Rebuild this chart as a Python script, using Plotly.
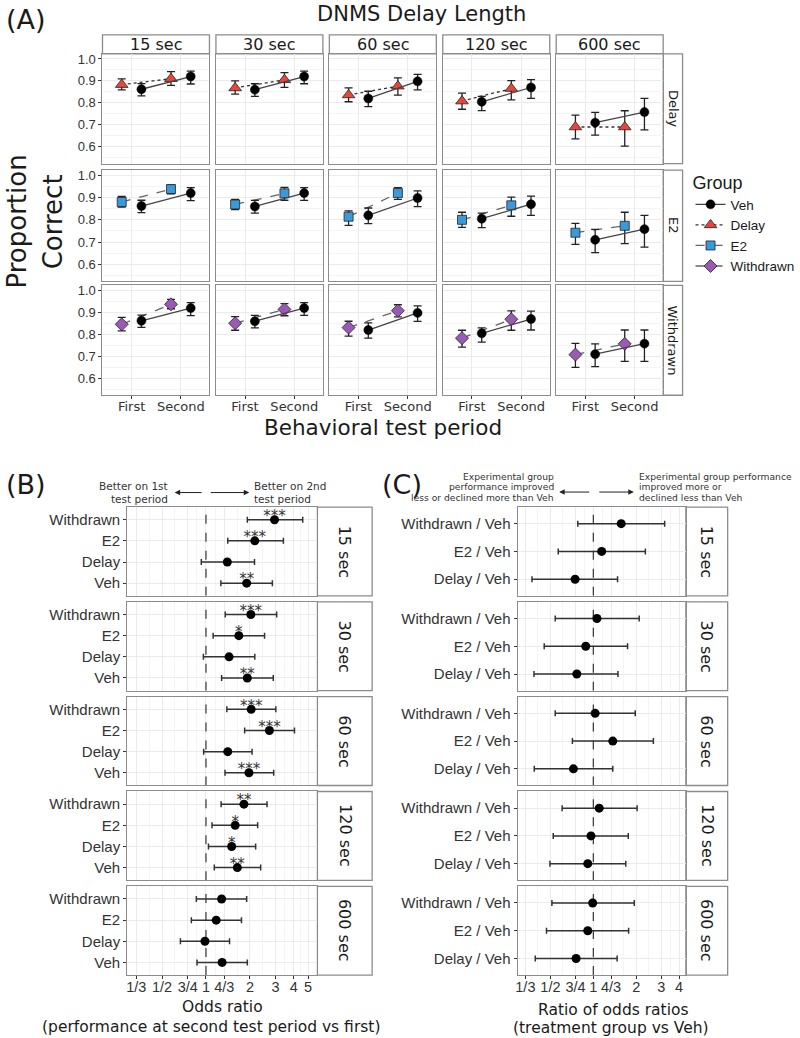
import numpy as np
import plotly.graph_objects as go

# ---------------- data ----------------
delays = ["15 sec", "30 sec", "60 sec", "120 sec", "600 sec"]
periods = ["First", "Second"]
treatments = ["Delay", "E2", "Withdrawn"]

# Panel A: proportion correct, [delay][period]
veh_mean = [[0.862, 0.920], [0.860, 0.920], [0.820, 0.898], [0.805, 0.870], [0.710, 0.758]]
veh_lo = [[0.832, 0.886], [0.830, 0.887], [0.783, 0.859], [0.765, 0.820], [0.653, 0.677]]
veh_hi = [[0.888, 0.945], [0.887, 0.945], [0.853, 0.930], [0.830, 0.906], [0.757, 0.820]]

delay_mean = [[0.883, 0.910], [0.868, 0.905], [0.836, 0.876], [0.808, 0.865], [0.690, 0.690]]
delay_lo = [[0.859, 0.880], [0.840, 0.871], [0.805, 0.835], [0.771, 0.814], [0.636, 0.603]]
delay_hi = [[0.909, 0.942], [0.900, 0.938], [0.868, 0.914], [0.844, 0.901], [0.744, 0.764]]

e2_mean = [[0.880, 0.938], [0.869, 0.919], [0.814, 0.920], [0.800, 0.865], [0.742, 0.773]]
e2_lo = [[0.857, 0.917], [0.846, 0.888], [0.775, 0.892], [0.766, 0.816], [0.690, 0.693]]
e2_hi = [[0.905, 0.957], [0.892, 0.946], [0.840, 0.945], [0.834, 0.902], [0.784, 0.834]]

wd_mean = [[0.846, 0.937], [0.851, 0.914], [0.831, 0.908], [0.783, 0.869], [0.708, 0.757]]
wd_lo = [[0.816, 0.917], [0.819, 0.885], [0.792, 0.880], [0.742, 0.819], [0.650, 0.677]]
wd_hi = [[0.878, 0.960], [0.881, 0.940], [0.860, 0.935], [0.819, 0.907], [0.759, 0.820]]

a_yticks = [0.6, 0.7, 0.8, 0.9, 1.0]

# Panel B: odds ratio second vs first, [delay][group]
or_groups = ["Withdrawn", "E2", "Delay", "Veh"]
or_mean = [[2.95, 2.16, 1.40, 1.90],
           [2.03, 1.68, 1.44, 1.92],
           [2.04, 2.72, 1.41, 1.97],
           [1.82, 1.585, 1.50, 1.64],
           [1.28, 1.175, 0.984, 1.29]]
or_lo = [[1.92, 1.41, 0.929, 1.265],
         [1.355, 1.12, 0.96, 1.28],
         [1.39, 1.84, 0.964, 1.35],
         [1.27, 1.10, 1.04, 1.14],
         [0.859, 0.794, 0.668, 0.868]]
or_hi = [[4.6, 3.39, 2.15, 2.85],
         [3.05, 2.52, 2.16, 2.89],
         [3.01, 4.04, 2.07, 2.91],
         [2.62, 2.26, 2.19, 2.37],
         [1.90, 1.75, 1.45, 1.92]]
or_sig = [["***", "***", "", "**"],
          ["***", "*", "", "**"],
          ["***", "***", "", "***"],
          ["**", "*", "*", "**"],
          ["", "", "", ""]]
or_ticks = [1/3, 1/2, 3/4, 1, 4/3, 2, 3, 4, 5]
or_ticklabels = ["1/3", "1/2", "3/4", "1", "4/3", "2", "3", "4", "5"]

# Panel C: ratio of odds ratios, [delay][comparison]
ror_groups = ["Withdrawn / Veh", "E2 / Veh", "Delay / Veh"]
ror_mean = [[1.57, 1.145, 0.745],
            [1.06, 0.885, 0.766],
            [1.03, 1.37, 0.725],
            [1.10, 0.963, 0.914],
            [0.99, 0.914, 0.757]]
ror_lo = [[0.778, 0.567, 0.371],
          [0.54, 0.452, 0.383],
          [0.54, 0.713, 0.385],
          [0.604, 0.523, 0.496],
          [0.512, 0.469, 0.391]]
ror_hi = [[3.17, 2.32, 1.48],
          [2.10, 1.74, 1.49],
          [1.97, 2.64, 1.37],
          [2.03, 1.76, 1.69],
          [1.94, 1.77, 1.47]]
ror_ticks = [1/3, 1/2, 3/4, 1, 4/3, 2, 3, 4]
ror_ticklabels = ["1/3", "1/2", "3/4", "1", "4/3", "2", "3", "4"]

# ---------------- styling / layout helpers ----------------
W, H = 800, 1038
FD = "DejaVu Sans"
FA = "Liberation Sans, Arial, sans-serif"
GRID = "#ebebeb"
MINOR = "#f4f4f4"
BORDER = "#8c8c8c"
TXT = "#333333"


def px_x(p):
    return p / W


def px_y(p):
    return 1 - p / H


fig = go.Figure()
axes = {}
shapes = []
annots = []
counter = [0]


def add_axes(x0, x1, y0, y1, xa, ya):
    counter[0] += 1
    n = counter[0]
    s = "" if n == 1 else str(n)
    xa = dict(xa)
    ya = dict(ya)
    xa.update(domain=[px_x(x0), px_x(x1)], anchor="y" + s)
    ya.update(domain=[px_y(y1), px_y(y0)], anchor="x" + s)
    axes["xaxis" + s] = xa
    axes["yaxis" + s] = ya
    return "x" + s, "y" + s


def strip(x0, x1, y0, y1, text, angle=0, size=16):
    shapes.append(dict(type="rect", xref="paper", yref="paper",
                       x0=px_x(x0), x1=px_x(x1), y0=px_y(y1), y1=px_y(y0),
                       fillcolor="white", line=dict(color=BORDER, width=1.3), layer="below"))
    annots.append(dict(xref="paper", yref="paper", x=px_x((x0 + x1) / 2), y=px_y((y0 + y1) / 2),
                       text=text, showarrow=False, textangle=angle,
                       font=dict(family=FD, size=size, color="#1a1a1a"),
                       xanchor="center", yanchor="middle"))


def label(x, y, text, size, family=FD, color="#1a1a1a", angle=0, xanchor="center", align="center"):
    annots.append(dict(xref="paper", yref="paper", x=px_x(x), y=px_y(y), text=text,
                       showarrow=False, textangle=angle, font=dict(family=family, size=size, color=color),
                       xanchor=xanchor, yanchor="middle", align=align))


def arrow(x_head, x_tail, y):
    annots.append(dict(xref="paper", yref="paper", x=px_x(x_head), y=px_y(y), text="",
                       showarrow=True, ax=x_tail - x_head, ay=0, arrowhead=2, arrowsize=1.1,
                       arrowwidth=1, arrowcolor="#222"))


# ---------------- Panel A ----------------
col_x = [(101, 208.5), (215, 322.5), (329, 436.5), (443, 550.5), (557, 664.5)]
row_y = [(52, 162), (168.5, 280), (284, 394)]
a_data = {"Delay": (delay_mean, delay_lo, delay_hi),
          "E2": (e2_mean, e2_lo, e2_hi),
          "Withdrawn": (wd_mean, wd_lo, wd_hi)}
a_style = {"Delay": dict(color="#E8463A", symbol="triangle-up", size=11, dash="dot", lc="#333"),
           "E2": dict(color="#3A9AD9", symbol="square", size=9, dash="dash", lc="#666"),
           "Withdrawn": dict(color="#9B59B6", symbol="diamond", size=10, dash="dash", lc="#666")}
dodge = 0.2
xpos = np.arange(1, len(periods) + 1)
rank = {"Veh": 1, "Delay": 2, "E2": 3, "Withdrawn": 4}

for r, g in enumerate(treatments):
    mean, lo, hi = a_data[g]
    st = a_style[g]
    for c, d in enumerate(delays):
        x0, x1 = col_x[c]
        y0, y1 = row_y[r]
        xa = dict(range=[0.41, 2.58], tickvals=list(xpos), ticktext=periods, showgrid=True,
                  gridcolor=GRID, gridwidth=1, showline=True, mirror=True, linecolor=BORDER,
                  linewidth=1.3, zeroline=False, ticks="outside" if r == 2 else "", ticklen=3,
                  tickcolor=TXT, showticklabels=(r == 2), ticklabelstandoff=-4,
                  tickfont=dict(family=FD, size=13, color=TXT))
        ya = dict(range=[0.523, 1.023], tickvals=a_yticks, tickformat=".1f", showgrid=True,
                  gridcolor=GRID, gridwidth=1,
                  minor=dict(tickvals=[v - 0.05 for v in a_yticks] + [1.05], showgrid=True,
                             gridcolor=MINOR, gridwidth=0.8),
                  showline=True, mirror=True, linecolor=BORDER, linewidth=1.3, zeroline=False,
                  ticks="outside" if c == 0 else "", ticklen=3, tickcolor=TXT,
                  showticklabels=(c == 0), tickfont=dict(family=FA, size=13, color=TXT))
        xr, yr = add_axes(x0, x1, y0, y1, xa, ya)
        m = np.array(mean[c]); l = np.array(lo[c]); h = np.array(hi[c])
        fig.add_trace(go.Scatter(
            x=xpos - dodge, y=m, mode="lines+markers", name=g, legendgroup=g,
            showlegend=(c == 0), legendrank=rank[g],
            line=dict(color=st["lc"], width=1.3, dash=st["dash"]),
            marker=dict(symbol=st["symbol"], size=st["size"], color=st["color"],
                        line=dict(color="#222", width=0.8)),
            error_y=dict(type="data", symmetric=False, array=h - m, arrayminus=m - l,
                         width=4, thickness=1.3, color="#222"),
            xaxis=xr, yaxis=yr, hoverinfo="skip"))
        vm = np.array(veh_mean[c]); vl = np.array(veh_lo[c]); vh = np.array(veh_hi[c])
        fig.add_trace(go.Scatter(
            x=xpos + dodge, y=vm, mode="lines+markers", name="Veh", legendgroup="Veh",
            showlegend=(r == 0 and c == 0), legendrank=rank["Veh"],
            line=dict(color="#444", width=1.3),
            marker=dict(symbol="circle", size=9, color="black", line=dict(color="black", width=0.5)),
            error_y=dict(type="data", symmetric=False, array=vh - vm, arrayminus=vm - vl,
                         width=4, thickness=1.3, color="#222"),
            xaxis=xr, yaxis=yr, hoverinfo="skip"))
        if r == 0:
            strip(x0, x1, 33, 52, d, size=16)
    strip(664.5, 684, row_y[r][0], row_y[r][1], g, angle=90, size=13)

label(2, 18, "(A)", 27, xanchor="left")
label(422, 12, "DNMS Delay Length", 21)
label(15, 220, "Proportion", 26, angle=-90)
label(51, 220, "Correct", 26, angle=-90)
label(383, 426, "Behavioral test period", 21.5)

# ---------------- Panels B and C ----------------
bc_rows = [(506, 595), (601, 690), (696, 785), (791, 880), (886, 975)]


def forest(px0, px1, sx1, xrange_log, ticks, ticklabels, groups, mean, lo, hi, sig):
    n = len(groups)
    ypos = np.arange(n, 0, -1)
    minor_vals = list(np.sqrt(np.array(ticks[:-1]) * np.array(ticks[1:])))
    for k, d in enumerate(delays):
        y0, y1 = bc_rows[k]
        last = (k == len(delays) - 1)
        xa = dict(type="log", range=xrange_log, tickvals=ticks, ticktext=ticklabels,
                  showgrid=True, gridcolor=GRID, gridwidth=1,
                  minor=dict(tickvals=minor_vals, showgrid=True, gridcolor=MINOR, gridwidth=0.8),
                  showline=True, mirror=True, linecolor=BORDER, linewidth=1.3, zeroline=False,
                  ticks="outside" if last else "", ticklen=3, tickcolor=TXT,
                  showticklabels=last, ticklabelstandoff=-5,
                  tickfont=dict(family=FA, size=14.5, color=TXT))
        ya = dict(range=[0.4, n + 0.6], tickvals=list(ypos), ticktext=groups, showgrid=True,
                  gridcolor=GRID, gridwidth=1, showline=True, mirror=True, linecolor=BORDER,
                  linewidth=1.3, zeroline=False, ticks="outside", ticklen=3, tickcolor=TXT,
                  tickfont=dict(family=FA, size=15, color=TXT))
        xr, yr = add_axes(px0, px1, y0, y1, xa, ya)
        fig.add_trace(go.Scatter(x=[1, 1], y=[0.4, n + 0.6], mode="lines",
                                 line=dict(color="#333", width=1.2, dash="dash"),
                                 showlegend=False, xaxis=xr, yaxis=yr, hoverinfo="skip"))
        m = np.array(mean[k]); l = np.array(lo[k]); h = np.array(hi[k])
        fig.add_trace(go.Scatter(
            x=m, y=ypos, mode="markers", showlegend=False,
            marker=dict(symbol="circle", size=9, color="black"),
            error_x=dict(type="data", symmetric=False, array=h - m, arrayminus=m - l,
                         width=3, thickness=1.5, color="#333"),
            xaxis=xr, yaxis=yr, hoverinfo="skip"))
        if sig is not None:
            fig.add_trace(go.Scatter(
                x=m, y=ypos + 0.12, mode="text", text=sig[k], textposition="middle center",
                textfont=dict(family=FD, size=15, color="#333"), showlegend=False,
                xaxis=xr, yaxis=yr, hoverinfo="skip"))
        strip(px1, sx1, y0, y1, d, angle=90, size=16)


forest(126, 317, 372, [-0.5385, 0.7635], or_ticks, or_ticklabels, or_groups,
       or_mean, or_lo, or_hi, or_sig)
forest(518.3, 687.3, 729.3, [-0.531, 0.650], ror_ticks, ror_ticklabels, ror_groups,
       ror_mean, ror_lo, ror_hi, None)

label(2, 483, "(B)", 27, xanchor="left")
label(380, 483, "(C)", 27, xanchor="left")

label(168.5, 484.5, "Better on 1st", 10.5, color=TXT, xanchor="right", align="right")
label(168.5, 497.5, "test period", 10.5, color=TXT, xanchor="right", align="right")
label(251.7, 484.5, "Better on 2nd", 10.5, color=TXT, xanchor="left", align="left")
label(251.7, 497.5, "test period", 10.5, color=TXT, xanchor="left", align="left")
arrow(173.5, 202, 491.5)
arrow(248.5, 208.5, 491.5)

for i, t in enumerate(["Experimental group", "performance improved", "less or declined more than Veh"]):
    label(557, 475 + 10.5 * i, t, 9.2, color=TXT, xanchor="right", align="right")
for i, t in enumerate(["Experimental group performance", "improved more or", "declined less than Veh"]):
    label(638.5, 475 + 10.5 * i, t, 9.2, color=TXT, xanchor="left", align="left")
arrow(560, 591.5, 491)
arrow(635, 599, 491)

label(222, 1007, "Odds ratio", 15.5)
label(210, 1027, "(performance at second test period vs first)", 15.5)
label(615, 1010, "Ratio of odds ratios", 15.5)
label(612, 1028, "(treatment group vs Veh)", 15.5)

fig.update_layout(
    width=W, height=H, autosize=False,
    margin=dict(l=0, r=0, t=0, b=0),
    paper_bgcolor="white", plot_bgcolor="white",
    shapes=shapes, annotations=annots,
    legend=dict(x=px_x(692), y=px_y(164), xanchor="left", yanchor="top",
                title=dict(text="Group", font=dict(family=FA, size=18, color="#1a1a1a")),
                font=dict(family=FA, size=13.5, color="#1a1a1a"),
                bgcolor="rgba(0,0,0,0)", itemwidth=30, tracegroupgap=0),
    **axes,
)

fig.write_html("out.html", config={"displayModeBar": False},
               post_script="document.body.style.margin='0';document.body.style.overflow='hidden';")
